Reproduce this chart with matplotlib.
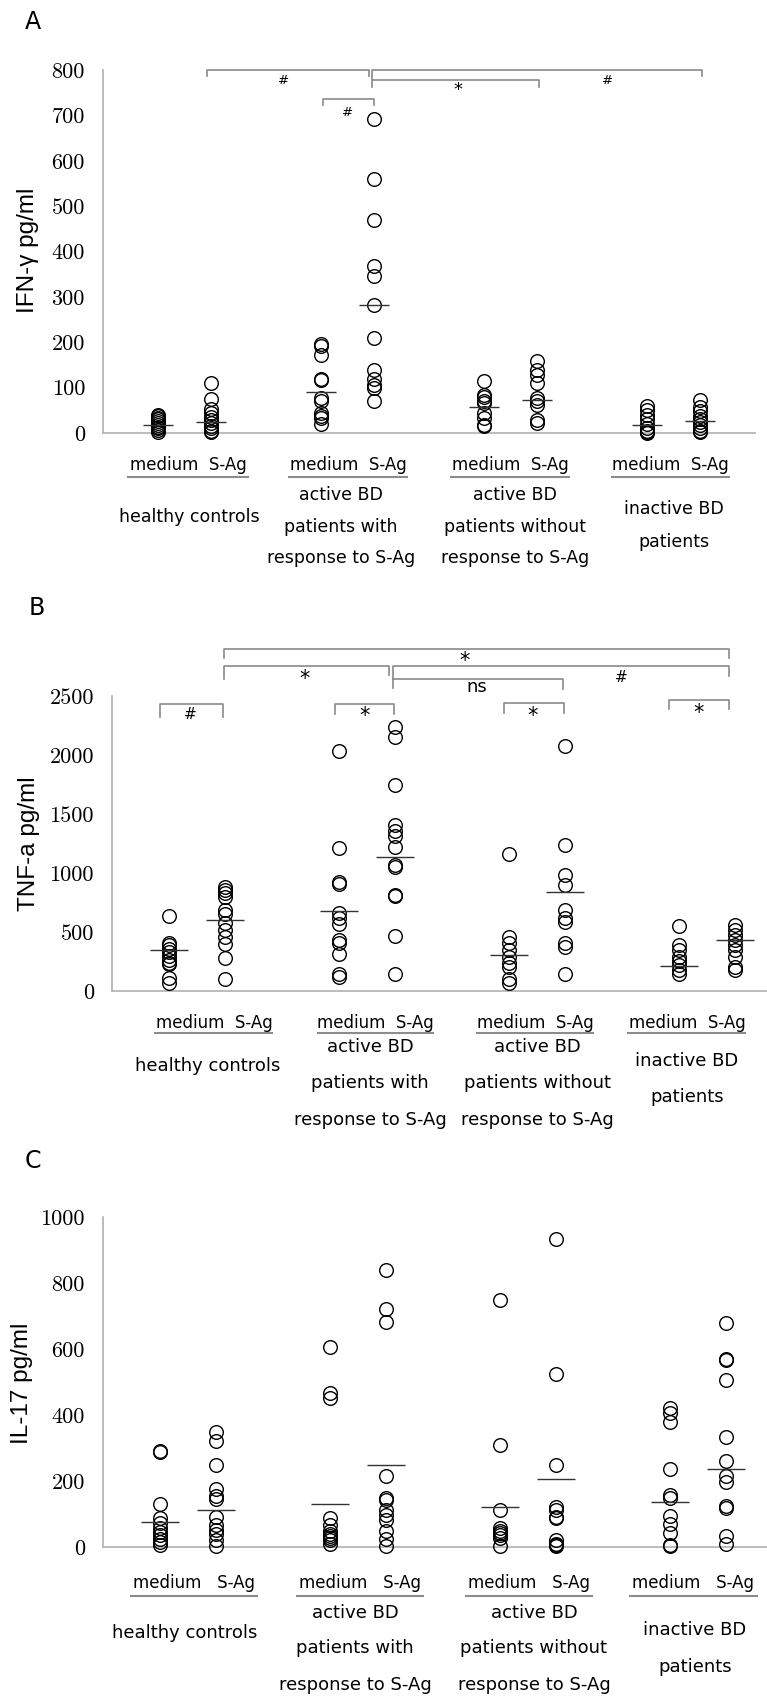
import matplotlib
matplotlib.use("Agg")
import matplotlib.pyplot as plt
from matplotlib.lines import Line2D

# ---------------- data ----------------
conditions = ["medium", "S-Ag"]
group_labels = ["healthy controls",
                "active BD\npatients with\nresponse to S-Ag",
                "active BD\npatients without\nresponse to S-Ag",
                "inactive BD\npatients"]

# Panel A: IFN-gamma (pg/ml); order: hc_med, hc_sag, ar_med, ar_sag, nr_med, nr_sag, in_med, in_sag
A_hc_med = [40, 38, 34, 30, 26, 22, 18, 14, 10, 6, 3]
A_hc_sag = [110, 76, 52, 45, 36, 28, 22, 16, 10, 5, 2]
A_ar_med = [196, 192, 172, 120, 117, 77, 70, 45, 38, 32, 20]
A_ar_sag = [691, 560, 470, 368, 346, 281, 209, 138, 119, 106, 100, 70]
A_nr_med = [114, 84, 79, 70, 66, 44, 33, 18, 15]
A_nr_sag = [158, 139, 128, 110, 77, 70, 62, 29, 22]
A_in_med = [60, 50, 40, 30, 20, 12, 5, 2, 0]
A_in_sag = [72, 58, 48, 38, 30, 25, 18, 10, 5, 3]
A_means = [17, 24, 90, 282, 57, 73, 17, 26]

# Panel B: TNF-a (pg/ml)
B_hc_med = [635, 405, 390, 360, 330, 300, 260, 235, 230, 110, 70]
B_hc_sag = [880, 860, 830, 800, 690, 650, 580, 520, 460, 400, 280, 100]
B_ar_med = [2035, 1210, 920, 905, 665, 615, 570, 430, 410, 315, 145, 115]
B_ar_sag = [2240, 2150, 1745, 1405, 1360, 1310, 1220, 1065, 1050, 815, 805, 465, 145]
B_nr_med = [1160, 460, 410, 350, 290, 235, 205, 105, 65]
B_nr_sag = [2080, 1240, 980, 900, 685, 615, 585, 405, 375, 140]
B_in_med = [550, 390, 345, 290, 255, 220, 180, 140]
B_in_sag = [560, 515, 475, 430, 390, 345, 290, 205, 175]
B_means = [347, 601, 680, 1137, 305, 841, 212, 432]

# Panel C: IL-17 (pg/ml)
C_hc_med = [292, 288, 130, 88, 72, 58, 45, 35, 25, 15, 5]
C_hc_sag = [350, 322, 248, 175, 155, 145, 92, 68, 52, 40, 22, 4]
C_ar_med = [607, 467, 453, 88, 68, 48, 38, 32, 28, 22, 8]
C_ar_sag = [840, 722, 682, 215, 150, 142, 112, 98, 82, 47, 24, 4]
C_nr_med = [748, 309, 113, 58, 50, 42, 35, 28, 3]
C_nr_sag = [932, 523, 249, 121, 113, 90, 88, 20, 10, 5, 2]
C_in_med = [420, 405, 380, 236, 158, 148, 95, 70, 42, 7, 2]
C_in_sag = [680, 570, 566, 506, 332, 262, 214, 198, 123, 118, 34, 10]
C_means = [76, 113, 130, 247, 121, 207, 136, 236]

A_ticks = [0, 100, 200, 300, 400, 500, 600, 700, 800]
B_ticks = [0, 500, 1000, 1500, 2000, 2500]
C_ticks = [0, 200, 400, 600, 800, 1000]

# ---------------- layout ----------------
W, H = 767, 1696
fig = plt.figure(figsize=(W / 100, H / 100), dpi=100)


def fx(x):
    return x / W


def fy(y):
    return 1 - y / H


SPINE = "#b0b0b0"
BRK = "#8a8a8a"
OFF = 0.165


def setup(ax, ticks, half):
    ax.set_xlim(-0.5, 3.5)
    ax.set_ylim(0, ticks[-1])
    ax.set_xticks([])
    ax.set_yticks(ticks)
    ax.set_yticklabels([str(t) for t in ticks], fontfamily="cmr10", fontsize=16)
    ax.set_yticks([ticks[-1]], minor=True)
    ax.tick_params(axis="y", which="major", length=0, pad=13)
    ax.tick_params(axis="y", which="minor", direction="in", length=7,
                   color=SPINE, width=1)
    for s in ("top", "right"):
        ax.spines[s].set_visible(False)
    for s in ("left", "bottom"):
        ax.spines[s].set_color(SPINE)
        ax.spines[s].set_linewidth(1.2)
    ax.patch.set_alpha(0)


def draw(ax, series, means, half):
    for i, vals in enumerate(series):
        g, c = divmod(i, 2)
        x = g + (-OFF if c == 0 else OFF)
        ax.plot([x] * len(vals), vals, linestyle="none", marker="o", ms=9.8,
                mfc="none", mec="black", mew=1.0, clip_on=False, zorder=3)
        ax.hlines(means[i], x - half, x + half, color="#333333", lw=1.0,
                  zorder=4, clip_on=False)


def bracket(ax, x1, x2, y, yl, yr):
    ax.plot([x1, x1, x2, x2], [yl, y, y, yr], color=BRK, lw=1.2,
            clip_on=False, zorder=2)


def labels(med_x, ul, med_y, ul_y, med_fs, med_txt, grp_x, rows, fs):
    for cx, (a, b) in zip(med_x, ul):
        fig.text(fx(cx), fy(med_y), med_txt, ha="center", va="center",
                 fontsize=med_fs, family="DejaVu Sans")
        fig.add_artist(Line2D([fx(a), fx(b)], [fy(ul_y), fy(ul_y)],
                              color="#8c8c8c", lw=1.5))
    for gx, lab in zip(grp_x, group_labels):
        lines = lab.split("\n")
        ys = rows[len(lines)]
        for ln, yy in zip(lines, ys):
            fig.text(fx(gx), fy(yy), ln, ha="center", va="center",
                     fontsize=fs, family="DejaVu Sans")


# ---- Panel A ----
axA = fig.add_axes([fx(103), fy(433), 652 / W, 363 / H])
setup(axA, A_ticks, 0.092)
draw(axA, [A_hc_med, A_hc_sag, A_ar_med, A_ar_sag, A_nr_med, A_nr_sag,
           A_in_med, A_in_sag], A_means, 0.092)
bracket(axA, 0.141, 1.13, 800, 787, 787)
bracket(axA, 1.153, 3.172, 800, 763, 787)
bracket(axA, 1.153, 2.172, 778, 778, 763)
bracket(axA, 0.847, 1.16, 736, 723, 723)
for x, y, t, s in [(0.607, 776, "#", 9.5), (2.595, 776, "#", 9.5),
                   (1.675, 756, "*", 13), (1.0, 707, "#", 9.5)]:
    axA.text(x, y, t, ha="center", va="center", fontsize=s, family="DejaVu Sans")
fig.text(fx(28), fy(250), "IFN-\u03b3 pg/ml", rotation=90, ha="center",
         va="center", fontsize=17.5, family="Liberation Sans")
fig.text(fx(33), fy(22), "A", ha="center", va="center", fontsize=17,
         family="DejaVu Sans")
labels([188, 348, 510, 670], [(128, 248), (289, 407), (451, 569), (612, 729)],
       465, 477, 12, "medium  S-Ag", [189, 341, 515, 674],
       {1: [517], 2: [509, 542], 3: [495, 527, 558]}, 12.5)

# ---- Panel B ----
axB = fig.add_axes([fx(112), fy(991), 680 / W, 295 / H])
setup(axB, B_ticks, 0.11)
draw(axB, [B_hc_med, B_hc_sag, B_ar_med, B_ar_sag, B_nr_med, B_nr_sag,
           B_in_med, B_in_sag], B_means, 0.11)
bracket(axB, 0.159, 3.13, 2898, 2822, 2822)
bracket(axB, 0.159, 1.129, 2754, 2644, 2678)
bracket(axB, 1.153, 3.13, 2754, 2568, 2670)
bracket(axB, 1.153, 2.153, 2644, 2644, 2559)
bracket(axB, -0.218, 0.153, 2432, 2322, 2322)
bracket(axB, 0.81, 1.159, 2432, 2348, 2348)
bracket(axB, 1.806, 2.159, 2441, 2356, 2356)
bracket(axB, 2.776, 3.13, 2466, 2390, 2390)
for x, y, t, s in [(1.576, 2800, "*", 15), (0.635, 2640, "*", 15),
                   (2.494, 2661, "#", 11), (1.647, 2576, "ns", 13),
                   (-0.04, 2339, "#", 11), (0.988, 2330, "*", 15),
                   (1.976, 2330, "*", 15), (2.953, 2355, "*", 15)]:
    axB.text(x, y, t, ha="center", va="center", fontsize=s, family="DejaVu Sans")
fig.text(fx(29), fy(844), "TNF-a pg/ml", rotation=90, ha="center",
         va="center", fontsize=17.5, family="Liberation Sans")
fig.text(fx(37), fy(608), "B", ha="center", va="center", fontsize=17,
         family="DejaVu Sans")
labels([214, 375, 535, 687], [(155, 272), (318, 433), (477, 593), (628, 745)],
       1023, 1033, 12, "medium  S-Ag", [208, 370, 537, 687],
       {1: [1066], 2: [1061, 1097], 3: [1047, 1083, 1120]}, 13)

# ---- Panel C ----
axC = fig.add_axes([fx(103), fy(1547), 680 / W, 330 / H])
setup(axC, C_ticks, 0.11)
draw(axC, [C_hc_med, C_hc_sag, C_ar_med, C_ar_sag, C_nr_med, C_nr_sag,
           C_in_med, C_in_sag], C_means, 0.11)
fig.text(fx(22), fy(1383), "IL-17 pg/ml", rotation=90, ha="center",
         va="center", fontsize=17.5, family="Liberation Sans")
fig.text(fx(33), fy(1161), "C", ha="center", va="center", fontsize=17,
         family="DejaVu Sans")
labels([194, 360, 529, 693], [(131, 257), (297, 423), (466, 592), (630, 757)],
       1583, 1596, 12, "medium   S-Ag", [185, 355, 534, 695],
       {1: [1633], 2: [1630, 1667], 3: [1613, 1648, 1685]}, 13)

fig.savefig("out.png", dpi=100)
